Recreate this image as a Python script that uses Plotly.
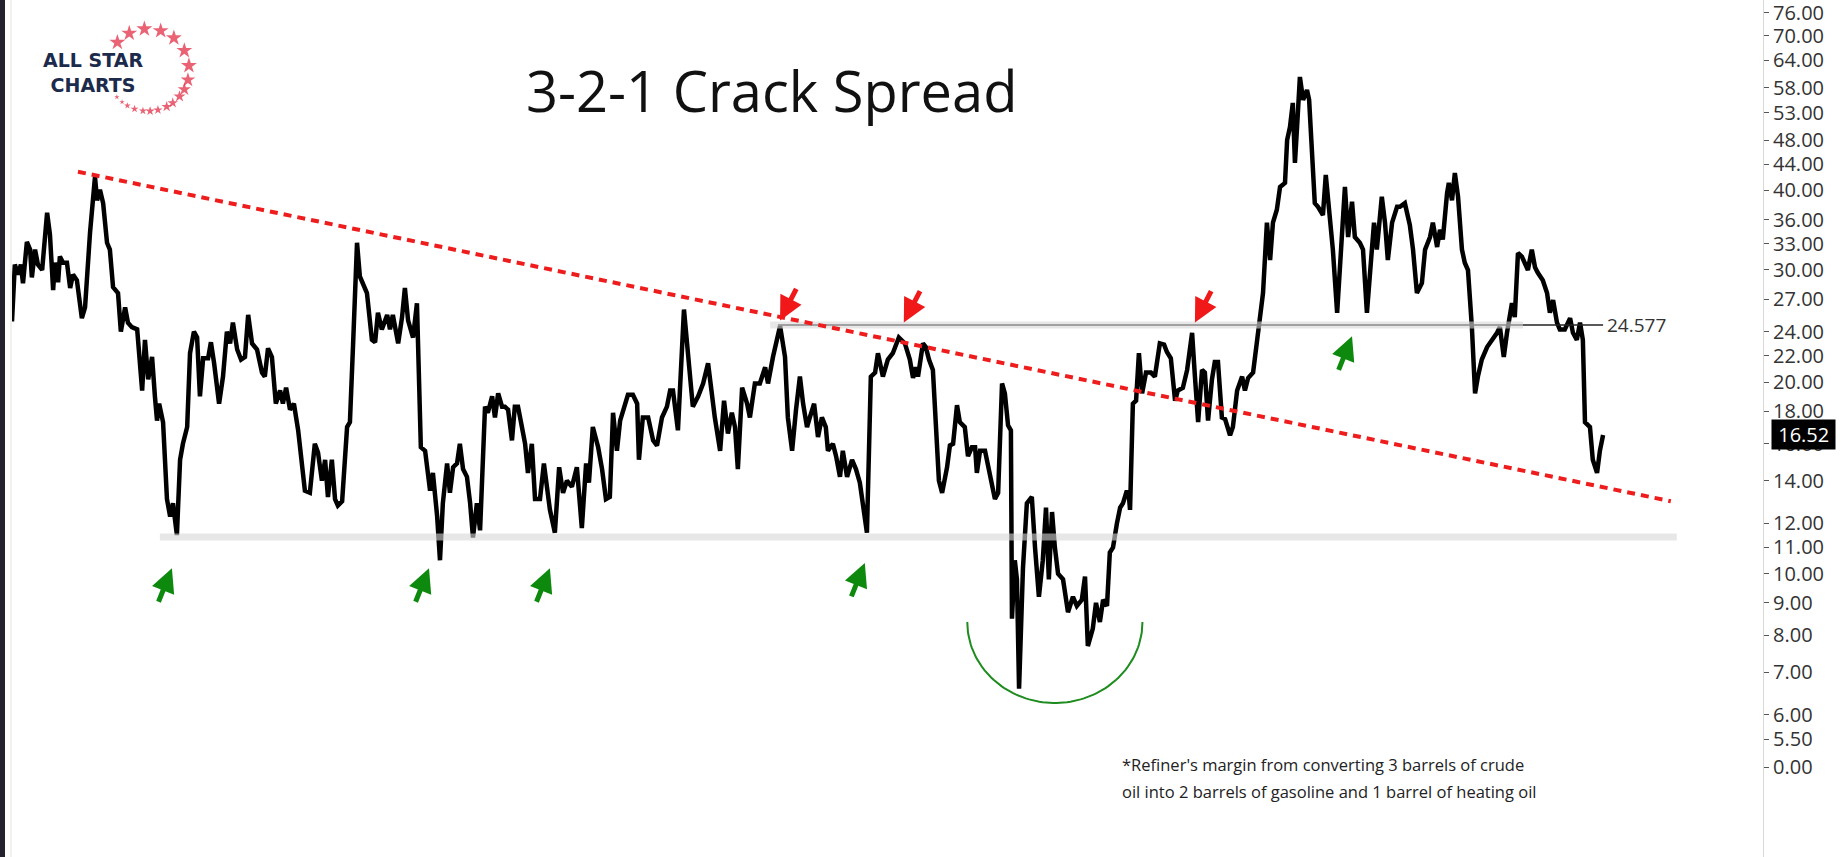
import math
import numpy as np
import plotly.graph_objects as go

# 3-2-1 crack spread: days since the first bar (mid-2012) and $/bbl
day = [0, 8, 17, 25, 31, 42, 51, 56, 65, 73, 85, 99, 107, 116, 121, 130, 135, 144, 155, 164,
       172, 183, 197, 206, 220, 234, 240, 248, 257, 268, 276, 285, 299, 307, 319, 327, 338, 353, 367, 375,
       384, 395, 403, 409, 415, 426, 437, 446, 454, 465, 474, 482, 494, 502, 513, 522, 530, 539, 553, 561,
       570, 584, 595, 606, 615, 623, 635, 646, 657, 666, 677, 691, 705, 713, 722, 733, 744, 756, 764, 773,
       784, 795, 807, 818, 826, 840, 854, 863, 874, 883, 891, 902, 911, 919, 931, 945, 953, 962, 973, 981,
       990, 1001, 1015, 1024, 1032, 1043, 1058, 1066, 1074, 1089, 1100, 1108, 1117, 1131, 1142, 1153, 1165, 1179, 1187, 1199, 1207,
       1215, 1227, 1235, 1244, 1255, 1263, 1272, 1283, 1292, 1300, 1311, 1320, 1334, 1342, 1354, 1362, 1371, 1382, 1390,
       1399, 1410, 1418, 1427, 1438, 1447, 1455, 1466, 1475, 1489, 1500, 1509, 1517, 1531, 1543, 1554, 1565, 1579, 1593, 1607,
       1619, 1627, 1638, 1653, 1664, 1675, 1686, 1695, 1706, 1715, 1729, 1737, 1751, 1763, 1768, 1779, 1794, 1808, 1819, 1833,
       1847, 1856, 1864, 1878, 1895, 1906, 1920, 1935, 1949, 1963, 1974, 1982, 1997, 2008, 2019, 2030, 2039, 2047, 2059, 2073,
       2081, 2095, 2109, 2124, 2132, 2146, 2166, 2180, 2188, 2200, 2211, 2222, 2231, 2242, 2250, 2262, 2273, 2284, 2295, 2301,
       2315, 2324, 2335, 2343, 2355, 2369, 2380, 2391, 2411, 2422, 2434, 2442, 2456, 2470, 2484, 2501,
       2518, 2532, 2541, 2549, 2555, 2569, 2577, 2586, 2597, 2606, 2614, 2623, 2637, 2645, 2654, 2665, 2673, 2687, 2696, 2707,
       2716, 2721, 2730, 2744, 2758, 2772, 2781, 2792, 2800, 2809, 2817,
       2820, 2828, 2834, 2840, 2848, 2851, 2862, 2876, 2885, 2896, 2907, 2916, 2924, 2933, 2941, 2950, 2964, 2978, 2992, 3003,
       3017, 3026, 3034, 3048, 3057, 3068, 3077, 3088, 3096, 3105, 3116, 3125, 3133, 3144, 3150, 3153,
       3161, 3170, 3178, 3187, 3198, 3212, 3223, 3237, 3249, 3257, 3268, 3280, 3288, 3302, 3314, 3328, 3336, 3345, 3356, 3364,
       3373, 3384, 3392, 3401, 3412, 3421, 3435, 3443, 3455, 3469, 3477, 3486, 3500, 3508, 3516, 3528,
       3539, 3548, 3556, 3567, 3576, 3590, 3596, 3604, 3612, 3618, 3624, 3632, 3641, 3652, 3658, 3666, 3674, 3683, 3697, 3705,
       3714, 3725, 3737, 3745, 3759, 3768, 3779, 3787, 3801, 3810, 3821, 3835, 3841, 3849, 3863, 3872, 3880, 3892, 3906, 3914,
       3928, 3942, 3951, 3962, 3976, 3985, 3999, 4007, 4019, 4027, 4035, 4047, 4052, 4061, 4069, 4078, 4089, 4097, 4106, 4117,
       4126, 4134, 4145, 4160, 4168, 4176, 4188, 4196, 4207, 4216, 4230, 4238, 4247, 4258, 4267, 4275, 4286, 4295, 4303, 4317,
       4329, 4337, 4346, 4357, 4365, 4379, 4394, 4402, 4413, 4422, 4430, 4436, 4450, 4458, 4470, 4478, 4487]

spread = [24.9, 30.6, 29.5, 30.6, 28.6, 33.2, 32.3, 29.2, 32.3, 30.6, 30.0, 36.9, 34.1, 27.9, 30.8, 28.7, 31.5, 30.8, 30.8, 28.1,
          29.5, 28.9, 25.2, 26.2, 34.3, 42.0, 38.6, 40.1, 38.2, 33.1, 32.3, 28.2, 27.6, 24.0, 26.2, 24.8, 24.4, 24.2, 19.4, 23.3,
          20.2, 21.9, 19.0, 17.4, 18.5, 17.3, 13.1, 12.3, 12.9, 11.5, 15.1, 16.0, 17.0, 22.2, 24.0, 23.5, 19.0, 21.8, 21.8, 23.1,
          21.4, 18.5, 20.4, 24.0, 23.0, 24.8, 22.5, 21.7, 21.9, 25.5, 23.0, 22.5, 20.7, 20.4, 22.6, 21.9, 18.5, 19.4, 18.5, 19.6,
          18.1, 18.5, 16.8, 14.6, 13.5, 13.4, 16.0, 15.5, 14.0, 15.1, 13.2, 15.1, 13.1, 12.8, 13.0, 17.0, 17.3, 23.0, 33.1, 29.3,
          28.6, 27.6, 23.3, 23.1, 25.7, 24.2, 25.5, 24.2, 25.5, 23.0, 25.3, 28.1, 25.0, 23.5, 26.6, 15.8, 15.6, 13.5, 14.4, 12.3, 10.5,
          12.9, 14.9, 13.4, 14.7, 14.9, 16.0, 14.6, 14.2, 12.9, 11.4, 12.9, 11.7, 18.3, 17.9, 19.0, 17.6, 19.2, 18.3, 18.3,
          18.1, 16.2, 18.3, 18.3, 17.0, 16.0, 14.4, 16.0, 13.1, 13.1, 14.9, 13.4, 12.6, 11.6, 14.7, 13.4, 14.0, 13.7, 14.7, 11.8,
          14.9, 13.9, 17.0, 15.8, 14.6, 13.1, 13.2, 17.9, 15.6, 17.4, 18.5, 19.1, 19.1, 18.5, 15.1, 17.6, 17.6, 16.2, 15.9, 17.6,
          18.3, 19.4, 19.4, 16.8, 26.0, 22.5, 18.3, 19.0, 19.9, 21.4, 18.7, 17.6, 15.6, 18.7, 16.6, 17.9, 17.0, 14.6, 19.6, 18.5,
          17.6, 19.9, 19.9, 21.1, 19.9, 21.9, 24.5, 21.9, 17.6, 15.6, 18.1, 20.4, 18.5, 17.0, 17.6, 18.5, 16.4, 17.6, 17.0, 15.6,
          16.0, 15.3, 14.2, 15.6, 14.2, 15.1, 14.6, 13.9, 11.6, 20.4, 20.7, 22.2, 20.4, 21.7, 22.2, 23.5,
          23.0, 21.7, 20.3, 21.1, 20.4, 23.0, 22.7, 21.7, 20.9, 17.3, 14.0, 13.4, 14.7, 15.9, 16.0, 18.4, 17.3, 17.0, 15.3, 15.8,
          15.8, 14.4, 15.6, 15.6, 14.4, 13.1, 13.4, 19.9, 19.2, 17.1, 16.8,
          8.5, 10.5, 9.8, 6.6, 9.8, 10.2, 12.9, 13.2, 11.0, 9.2, 10.5, 12.7, 9.8, 12.5, 11.0, 10.0, 9.8, 8.7, 9.2, 8.9,
          9.1, 9.9, 7.7, 8.2, 9.0, 8.4, 9.1, 8.9, 10.8, 11.0, 12.0, 12.7, 12.9, 13.5, 13.2, 12.6,
          18.5, 18.7, 22.2, 19.2, 20.7, 20.7, 20.4, 23.0, 22.9, 22.3, 21.8, 18.7, 19.4, 19.6, 20.9, 23.9, 20.4, 17.3, 20.9, 20.7,
          17.4, 20.2, 21.5, 21.5, 17.6, 17.5, 16.5, 17.0, 19.4, 20.4, 19.4, 20.3, 20.7, 22.5, 23.9, 27.6,
          35.6, 31.1, 35.6, 37.3, 40.5, 41.1, 48.0, 50.3, 54.9, 44.2, 50.3, 60.3, 55.5, 57.5, 55.5, 47.5, 38.2, 37.7, 36.6, 42.3,
          37.7, 32.3, 25.7, 30.0, 40.5, 33.8, 38.4, 33.8, 33.1, 32.3, 25.7, 32.3, 35.6, 32.3, 39.1, 35.6, 31.1, 35.6, 37.7, 37.7,
          38.2, 35.3, 32.3, 27.6, 28.6, 32.3, 33.8, 35.6, 32.6, 34.7, 33.5, 39.6, 41.1, 38.6, 42.6, 39.1, 32.3, 30.8, 30.0, 24.4,
          19.2, 20.4, 21.7, 22.7, 23.0, 23.3, 23.9, 24.4, 21.9, 23.9, 26.6, 25.3, 31.9, 31.5, 30.8, 30.0, 32.3, 30.3, 29.7, 28.9,
          27.6, 25.7, 26.9, 24.8, 24.2, 24.2, 25.2, 23.9, 23.3, 24.8, 23.3, 17.3, 17.0, 15.1, 14.4, 15.6, 16.52]

assert len(day) == len(spread)

support = 11.42
resistance = 24.577
last_close = spread[-1]

# falling red trendline, two anchor points (day, value)
trend_day = [186, 4678]
trend_val = [42.8, 13.0]

# arrow tips (day, value)
green_day = [451, 1176, 1517, 2405, 3779]
green_val = [10.2, 10.2, 10.2, 10.4, 23.6]
red_day = [2166, 2515, 3336]
red_val = [25.0, 24.8, 24.8]

tick_vals = [4.97, 5.5, 6, 7, 8, 9, 10, 11, 12, 14, 16, 18, 20, 22, 24, 27, 30,
             33, 36, 40, 44, 48, 53, 58, 64, 70, 76]
tick_text = ["0.00"] + [f"{v:.2f}" for v in tick_vals[1:]]

# logo star ring: angle (deg) and marker size
star_angle = [138, 117, 95, 72, 51, 28, 6, -14, -28, -40, -53, -63, -76, -87, -97, -109, -120, -129, -139]
star_size = [12, 12, 12, 12, 12, 12, 12, 11, 10, 9, 8, 8, 7, 7, 6, 6, 5, 4, 4]

BAND = "rgba(215,215,215,0.6)"

fig = go.Figure()

fig.add_trace(go.Scatter(x=day, y=spread, mode="lines",
                         line=dict(color="black", width=4.5), hoverinfo="skip"))

# grey support band and resistance level
fig.add_trace(go.Scatter(x=[417, 4695], y=[support, support], mode="lines",
                         line=dict(color=BAND, width=7), hoverinfo="skip"))
fig.add_trace(go.Scatter(x=[2138, 4261], y=[resistance, resistance], mode="lines",
                         line=dict(color=BAND, width=7), hoverinfo="skip"))
fig.add_trace(go.Scatter(x=[2160, 4261], y=[resistance, resistance], mode="lines",
                         line=dict(color="#8a8a8a", width=1.5), hoverinfo="skip"))
fig.add_trace(go.Scatter(x=[4261, 4487], y=[resistance, resistance], mode="lines",
                         line=dict(color="#222", width=1.5), hoverinfo="skip"))

fig.add_trace(go.Scatter(x=trend_day, y=trend_val, mode="lines",
                         line=dict(color="#ee1c1c", width=4, dash="8px,6px"), hoverinfo="skip"))

# green rounded-bottom arc under the 2020 low
theta = np.linspace(0, np.pi, 80)
arc_x = 2941 + 247 * np.cos(theta)
arc_y = 8.40 * np.exp(-0.293 * np.sin(theta))
fig.add_trace(go.Scatter(x=arc_x, y=arc_y, mode="lines",
                         line=dict(color="#1e8c1e", width=2), hoverinfo="skip"))

# logo stars on their own small axes
sx = [1.03 * math.cos(math.radians(a)) for a in star_angle]
sy = [1.03 * math.sin(math.radians(a)) for a in star_angle]
fig.add_trace(go.Scatter(x=sx, y=sy, mode="markers", xaxis="x2", yaxis="y2",
                         marker=dict(symbol="star", size=star_size, color="#e0213a", line_width=0),
                         hoverinfo="skip"))

annotations = []
for d, v in zip(green_day, green_val):
    annotations.append(dict(x=d, y=math.log10(v), xref="x", yref="y", text="", showarrow=True,
                            arrowhead=2, arrowsize=0.95, arrowwidth=5, arrowcolor="#0d8a0d",
                            ax=-14, ay=35, standoff=0))
for d, v in zip(red_day, red_val):
    annotations.append(dict(x=d, y=math.log10(v), xref="x", yref="y", text="", showarrow=True,
                            arrowhead=2, arrowsize=0.95, arrowwidth=5, arrowcolor="#f01818",
                            ax=17, ay=-33, standoff=0))

annotations += [
    dict(text="3-2-1 Crack Spread", xref="paper", yref="paper", x=0.434, y=0.895,
         xanchor="center", yanchor="middle", showarrow=False,
         font=dict(size=56, color="#111", family="Open Sans")),
    dict(text="*Refiner's margin from converting 3 barrels of crude", xref="paper", yref="paper",
         x=0.6325, y=0.1074, xanchor="left", yanchor="middle", showarrow=False,
         font=dict(size=16.5, color="#222")),
    dict(text="oil into 2 barrels of gasoline and 1 barrel of heating oil", xref="paper", yref="paper",
         x=0.6325, y=0.0759, xanchor="left", yanchor="middle", showarrow=False,
         font=dict(size=16.5, color="#222")),
    dict(text="ALL STAR<br>CHARTS", xref="paper", yref="paper", x=0.046, y=0.9154,
         xanchor="center", yanchor="middle", showarrow=False, align="center",
         font=dict(size=19, color="#1c2b4b", family="DejaVu Sans", weight=700)),
    dict(text=f"{resistance}", xref="x", yref="y", x=4492, y=math.log10(resistance),
         xanchor="left", yanchor="middle", showarrow=False,
         font=dict(size=19, color="#333")),
    dict(text=f"\u00a0{last_close:.2f}\u00a0", xref="paper", yref="y", x=1.0044,
         y=math.log10(last_close), xanchor="left", yanchor="middle", showarrow=False,
         bgcolor="black", borderpad=1, font=dict(size=20, color="white")),
]

fig.update_layout(
    width=1845,
    height=857,
    margin=dict(l=12, r=82, t=0, b=0),
    paper_bgcolor="white",
    plot_bgcolor="white",
    showlegend=False,
    font_family="Open Sans",
    xaxis=dict(range=[0, 4938], visible=False, fixedrange=True),
    yaxis=dict(type="log", range=[math.log10(3.590), math.log10(79.65)], side="right",
               tickvals=tick_vals, ticktext=tick_text, ticks="outside", ticklen=5,
               tickcolor="#555", showline=True, linecolor="#d9d9d9", linewidth=1,
               showgrid=False, zeroline=False, tickfont=dict(size=20, color="#333"),
               ticklabeloverflow="allow", fixedrange=True),
    xaxis2=dict(domain=[0.0491, 0.1062], range=[-1.25, 1.25], anchor="y2", visible=False),
    yaxis2=dict(domain=[0.8600, 0.9767], range=[-1.25, 1.25], anchor="x2", visible=False),
    annotations=annotations,
    shapes=[
        dict(type="rect", xref="paper", yref="paper", x0=-12 / 1751, x1=-7 / 1751, y0=0, y1=1,
             fillcolor="#24222c", line_width=0, layer="above"),
        dict(type="line", xref="paper", yref="paper", x0=-1 / 1751, x1=-1 / 1751, y0=0, y1=1,
             line=dict(color="#e3e3e3", width=1)),
    ],
)

fig.write_html("out.html", config={"displayModeBar": False},
               post_script="document.body.style.margin='0px';")
